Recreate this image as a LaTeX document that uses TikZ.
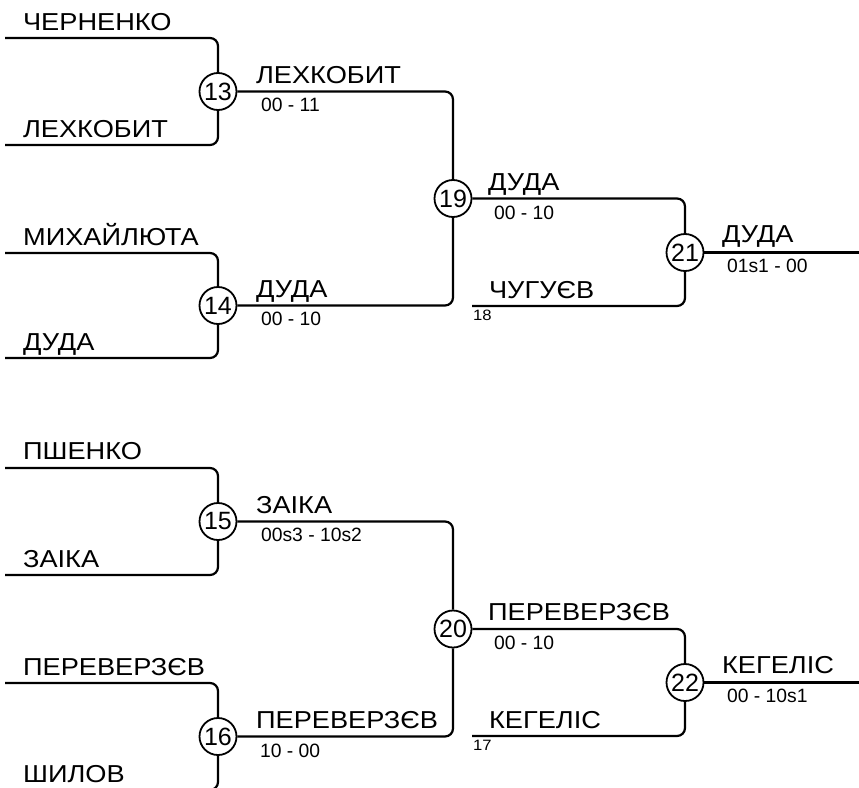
\documentclass[tikz,border=0pt]{standalone}
\usepackage{fontspec}
\setmainfont{Liberation Sans}
\newcommand{\stretchtxt}[1]{\scalebox{1.11}[1]{#1}}
\begin{document}
\begin{tikzpicture}[x=1pt,y=-1pt,
  line width=2.2pt,
  conn/.style={draw=black,line width=2.2pt,rounded corners=8pt},
  matchc/.style={circle,draw=black,line width=1.8pt,fill=white,minimum size=37pt,inner sep=0pt,font=\fontsize{25}{25}\selectfont},
  pname/.style={anchor=base west,inner sep=0pt,font=\fontsize{24.5}{24.5}\selectfont},
  score/.style={anchor=base west,inner sep=0pt,font=\fontsize{19.3}{19.3}\selectfont},
  seed/.style={anchor=base west,inner sep=0pt,font=\fontsize{15}{15}\selectfont}]
\useasboundingbox (0,0) rectangle (859,787);
\clip (0,0) rectangle (859,787);

% ---------- top half ----------
\coordinate (l13a) at (5,38);
\coordinate (l13b) at (5,145);
\coordinate (l14a) at (5,253);
\coordinate (l14b) at (5,358);
\node[matchc] (m13) at (218,91.5) {13};
\node[matchc] (m14) at (218,305.5) {14};
\node[matchc] (m19) at (453,198.5) {19};
\node[matchc] (m21) at (685,252.5) {21};
\coordinate (s18) at (472,306);
\coordinate (e21) at (860,252.5);

\draw[conn] (l13a) -| (m13.north);
\draw[conn] (l13b) -| (m13.south);
\draw[conn] (l14a) -| (m14.north);
\draw[conn] (l14b) -| (m14.south);
\draw[conn] (m13.east) -| (m19.north);
\draw[conn] (m14.east) -| (m19.south);
\draw[conn] (m19.east) -| (m21.north);
\draw[conn] (s18) -| (m21.south);
\draw[conn] (m21.east) -- (e21);

\node[pname] (n1) at (22,30.5) {\stretchtxt{ЧЕРНЕНКО}};
\node[pname] (n2) at (22,137) {\stretchtxt{ЛЕХКОБИТ}};
\node[pname] (n3) at (22,245) {\stretchtxt{МИХАЙЛЮТА}};
\node[pname] (n4) at (22,350) {\stretchtxt{ДУДА}};
\node[pname] (w13) at (255,83) {\stretchtxt{ЛЕХКОБИТ}};
\node[score] (r13) at (260,111.5) {00 - 11};
\node[pname] (w14) at (255,297) {\stretchtxt{ДУДА}};
\node[score] (r14) at (260,325.5) {00 - 10};
\node[pname] (w19) at (487,190.5) {\stretchtxt{ДУДА}};
\node[score] (r19) at (493,219) {00 - 10};
\node[pname] (n18) at (488,298) {\stretchtxt{ЧУГУЄВ}};
\node[seed] (q18) at (472,320.5) {\stretchtxt{18}};
\node[pname] (w21) at (721,242) {\stretchtxt{ДУДА}};
\node[score] (r21) at (726,272) {01s1 - 00};

% ---------- bottom half ----------
\coordinate (l15a) at (5,468);
\coordinate (l15b) at (5,575);
\coordinate (l16a) at (5,683);
\coordinate (l16b) at (5,790);
\node[matchc] (m15) at (218,521.5) {15};
\node[matchc] (m16) at (218,736.5) {16};
\node[matchc] (m20) at (453,629) {20};
\node[matchc] (m22) at (685,682.5) {22};
\coordinate (s17) at (472,736);
\coordinate (e22) at (860,682.5);

\draw[conn] (l15a) -| (m15.north);
\draw[conn] (l15b) -| (m15.south);
\draw[conn] (l16a) -| (m16.north);
\draw[conn] (l16b) -| (m16.south);
\draw[conn] (m15.east) -| (m20.north);
\draw[conn] (m16.east) -| (m20.south);
\draw[conn] (m20.east) -| (m22.north);
\draw[conn] (s17) -| (m22.south);
\draw[conn] (m22.east) -- (e22);

\node[pname] (n5) at (22,459) {\stretchtxt{ПШЕНКО}};
\node[pname] (n6) at (22,567) {\stretchtxt{ЗАІКА}};
\node[pname] (n7) at (22,675) {\stretchtxt{ПЕРЕВЕРЗЄВ}};
\node[pname] (n8) at (22,782) {\stretchtxt{ШИЛОВ}};
\node[pname] (w15) at (255,513) {\stretchtxt{ЗАІКА}};
\node[score] (r15) at (260,541.5) {00s3 - 10s2};
\node[pname] (w16) at (255,728) {\stretchtxt{ПЕРЕВЕРЗЄВ}};
\node[score] (r16) at (259,757) {10 - 00};
\node[pname] (w20) at (487,620) {\stretchtxt{ПЕРЕВЕРЗЄВ}};
\node[score] (r20) at (493,649) {00 - 10};
\node[pname] (n17) at (488,728) {\stretchtxt{КЕГЕЛІС}};
\node[seed] (q17) at (472,750.5) {\stretchtxt{17}};
\node[pname] (w22) at (721,673) {\stretchtxt{КЕГЕЛІС}};
\node[score] (r22) at (726,702) {00 - 10s1};
\end{tikzpicture}
\end{document}
